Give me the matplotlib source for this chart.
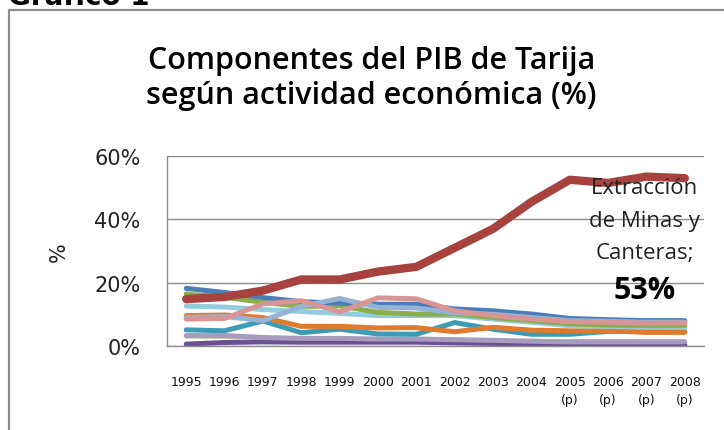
import numpy as np
from matplotlib import pyplot as plt
from matplotlib.lines import Line2D

# data (share of PIB, %)
years = ['1995', '1996', '1997', '1998', '1999', '2000', '2001',
         '2002', '2003', '2004', '2005\n(p)', '2006\n(p)', '2007\n(p)', '2008\n(p)']

azul = [18.2, 16.9, 15.3, 14.0, 13.5, 13.2, 13.2, 11.7, 11.1, 10.1, 8.7, 8.3, 8.0, 8.0]
verde = [16.4, 15.4, 13.8, 12.5, 12.7, 10.6, 10.1, 10.1, 9.0, 8.0, 7.0, 6.6, 6.5, 6.5]
celeste_gris = [9.0, 9.3, 8.0, 12.5, 15.0, 12.2, 12.0, 10.5, 10.0, 9.0, 8.0, 7.8, 7.5, 7.5]
celeste = [12.6, 12.3, 11.5, 10.9, 10.3, 9.6, 9.6, 9.6, 8.5, 7.5, 6.4, 6.2, 5.9, 5.9]
rosa = [8.5, 8.7, 13.3, 14.3, 10.8, 15.2, 14.9, 11.1, 9.6, 8.5, 7.7, 7.5, 7.2, 7.3]
naranja = [9.6, 9.8, 9.0, 6.2, 6.2, 5.7, 5.8, 4.5, 5.9, 5.0, 4.8, 4.8, 4.3, 4.3]
turquesa = [5.1, 4.8, 7.9, 4.2, 5.3, 3.8, 3.7, 7.4, 5.3, 3.7, 3.7, 4.6, 4.6, 4.6]
verde_claro = [2.6, 2.5, 2.3, 2.2, 2.2, 2.1, 2.0, 2.0, 2.0, 2.0, 1.9, 1.9, 1.9, 1.9]
lila = [3.3, 3.3, 2.7, 2.4, 2.4, 2.2, 2.2, 2.0, 1.8, 1.5, 1.3, 1.3, 1.3, 1.3]
morado = [0.6, 1.1, 1.3, 1.2, 1.2, 1.2, 1.2, 1.0, 0.8, 0.6, 0.5, 0.5, 0.5, 0.4]
minas = [14.8, 15.5, 17.5, 21.0, 21.0, 23.5, 25.0, 31.0, 37.0, 45.5, 52.5, 51.5, 53.5, 53.0]

series = [
    (verde_claro, '#b9cd96', 1.2),
    (morado, '#6a5290', 3.6),
    (lila, '#a99bc0', 3.6),
    (turquesa, '#3d9cb5', 3.6),
    (naranja, '#e07b2e', 3.6),
    (celeste, '#93ccdd', 3.6),
    (verde, '#8bae4c', 3.6),
    (azul, '#4a7ebb', 3.6),
    (celeste_gris, '#95b3d7', 3.6),
    (rosa, '#d89593', 3.6),
    (minas, '#a8423f', 6.0),
]

fig = plt.figure(figsize=(7.24, 4.31), dpi=100)
ax = fig.add_axes([0.2307, 0.1949, 0.7417, 0.4408])

x = np.arange(len(years))
for vals, col, lw in series:
    ax.plot(x, np.array(vals) / 100, color=col, lw=lw,
            solid_capstyle='round', solid_joinstyle='round')

ax.set_xlim(-0.5, len(years) - 0.5)
ax.set_ylim(0, 0.6)
ax.set_yticks([0, 0.2, 0.4, 0.6])
ax.set_yticklabels(['0%', '20%', '40%', '60%'], fontsize=15,
                   family='DejaVu Sans', color='#222222')
ax.set_xticks(x)
ax.set_xticklabels(years, fontsize=9, color='#111111', linespacing=1.5,
                   va='top')
ax.tick_params(axis='x', length=0, pad=21)
ax.tick_params(axis='y', length=0, pad=19)
ax.grid(axis='y', color='#8c8c8c', lw=1)
ax.set_axisbelow(True)
for s in ['top', 'right']:
    ax.spines[s].set_visible(False)
for s in ['left', 'bottom']:
    ax.spines[s].set_color('#8c8c8c')
    ax.spines[s].set_linewidth(1)

ax.set_ylabel('%', fontsize=15, family='DejaVu Sans', color='#222222',
              labelpad=18)

# label for Extracción de Minas y Canteras
lab = dict(ha='center', va='center', fontsize=16, family='Open Sans',
           color='#222222')
ax.text(11.95, 0.50, 'Extracción', **lab)
ax.text(11.95, 0.396, 'de Minas y', **lab)
ax.text(11.95, 0.296, 'Canteras;', **lab)
ax.text(11.95, 0.178, '53%', ha='center', va='center', fontsize=22,
        family='Open Sans', weight='bold', color='black')

# titles
fig.text(0.513, 1 - 69 / 431, 'Componentes del PIB de Tarija', ha='center',
         va='baseline', fontsize=22, family='Open Sans', weight='semibold')
fig.text(0.513, 1 - 104 / 431, 'según actividad económica (%)', ha='center',
         va='baseline', fontsize=22, family='Open Sans', weight='semibold')

# cut-off header and frame
fig.text(0.011, 1 - 5 / 431, 'Gráfico 1', ha='left', va='baseline',
         fontsize=20, family='DejaVu Sans', weight='bold')
fig.add_artist(Line2D([9 / 724, 9 / 724, 1], [0, 1 - 11 / 431, 1 - 11 / 431],
                      transform=fig.transFigure, color='#8c8c8c', lw=1.6))

fig.savefig('out.png', dpi=100)
